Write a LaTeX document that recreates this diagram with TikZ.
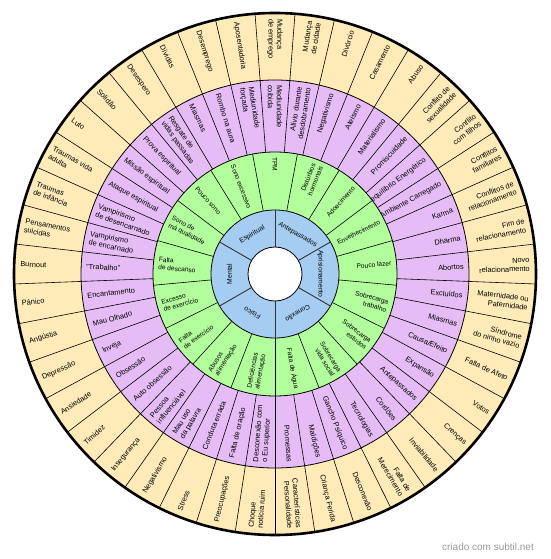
\documentclass[tikz,border=0pt]{standalone}
\usepackage{fontspec}
\setmainfont{Liberation Sans}
\definecolor{ringyellow}{HTML}{FFEBB8}
\definecolor{ringpurple}{HTML}{E5BCF6}
\definecolor{ringgreen}{HTML}{B2FE9C}
\definecolor{ringblue}{HTML}{A5CDF2}
\newcommand{\ringlabels}[5]{%
  \foreach \txt [count=\idx from 0] in {#5} {%
    \pgfmathsetmacro\ang{90-\idx*360/#2}%
    \pgfmathtruncatemacro\outw{cos(\ang)>0.01}%
    \ifnum\outw=1
      \node[#4,anchor=east,align=right,rotate=\ang] (#1\idx) at (\ang:#3) {\txt};
    \else
      \node[#4,anchor=west,align=left,rotate=\ang+180] (#1\idx) at (\ang:#3) {\txt};
    \fi
  }}

\begin{document}
\begin{tikzpicture}[
  disc/.style={draw,line width=0.8pt},
  divider/.style={line width=0.6pt},
  outertext/.style={font=\fontsize{7.4}{8.8}\selectfont,inner sep=0pt},
  greentext/.style={font=\fontsize{6.6}{7.9}\selectfont,inner sep=0pt},
  bluetext/.style={font=\fontsize{6.8}{8}\selectfont,inner sep=0pt}
]
\useasboundingbox (-275pt,-285pt) rectangle (275pt,274pt);

\fill[ringyellow] (0,0) circle[radius=261pt];
\ringlabels{y}{41}{255pt}{outertext}{%
  Mudança\\de emprego, Mudança\\de cidade, Divórcio, Casamento, Abuso,
  Conflito de\\sexualidade, Conflito\\com filhos, Conflitos\\familiares,
  Conflitos de\\relacionamento, Fim de\\relacionamento, Novo\\relacionamento,
  Maternidade ou\\Paternidade, Síndrome\\do ninho vazio, Falta de Afeto,
  Votos, Crenças, Inviabilidade, Falta de\\Merecimento, Desconexão,
  Criança Ferida, Características\\Personalidade, Choque\\notícia ruim,
  Preocupações, Stress, Negativismo, Insegurança, Timidez, Ansiedade,
  Depressão, Angústia, Pânico, Burnout, Pensamentos\\suicidas,
  Traumas\\de infância, Traumas vida\\adulta, Luto, Solidão, Desespero,
  Dívidas, Desemprego, Aposentadoria}

\draw[disc,fill=ringpurple] (0,0) circle[radius=194pt];
\ringlabels{p}{41}{189pt}{outertext}{%
  Mediunidade\\coibida, Alívio durante\\desdobramento, Negativismo, Ateísmo,
  Materialismo, Promiscuidade, Desequilíbrio Energético, Ambiente Carregado,
  Karma, Dharma, Abortos, Excluídos, Miasmas, Causa/Efeito, Expansão,
  Antepassados, Cordões, Tecnologias, Gancho Psíquico, Maldições, Promessas,
  Desconexão com\\o Eu superior, Falta de oração, Conduta errada,
  Mau uso\\da palavra, Pessoa\\influenciável, Auto obsessão, Obsessão, Inveja,
  Mau Olhado, Encantamento, "Trabalho", Vampirismo\\de encarnado,
  Vampirismo\\de desencarnado, Ataque espiritual, Missão espiritual,
  Prova espiritual, Resgate de\\vidas passadas, Miasmas, Rombo na aura,
  Mediunidade\\forçada}

\foreach \k in {0,...,40}
  \draw[divider] (270+\k*360/41:122pt) -- (270+\k*360/41:261pt);

\draw[disc,fill=ringgreen] (0,0) circle[radius=122pt];
\ringlabels{g}{17}{117pt}{greentext}{%
  TPM, Distúrbios\\hormonais, Adoecimento, Envelhecimento, Pouco lazer,
  Sobrecarga\\trabalho, Sobrecarga\\estudos, Sobrecarga\\vida social,
  Falta de Água, Deficiências\\alimentação, Abusos\\alimentação,
  Falta\\de exercício, Excesso\\de exercício, Falta\\de descanso,
  Sono de\\má qualidade, Pouco sono, Sono excessivo}

\foreach \k in {0,...,16}
  \draw[divider] (270+\k*360/17:64pt) -- (270+\k*360/17:122pt);

\draw[disc,fill=ringblue] (0,0) circle[radius=64pt];
\foreach \txt [count=\idx from 0] in {Antepassados,Aprisionamento,Conexão,Físico,Mental,Espiritual}
  {\node[bluetext,rotate=-30-\idx*60] (b\idx) at (60-\idx*60:45.5pt) {\txt};}
\foreach \k in {0,...,5}
  \draw[line width=0.9pt,black!80] (90+\k*60:27pt) -- (90+\k*60:64pt);

\draw[disc,fill=white] (0,0) circle[radius=27pt];
\draw[line width=2.6pt] (0,0) circle[radius=261pt];

\node[font=\fontsize{10}{12}\selectfont,text=black!40] (mark) at (213pt,-273pt) {criado com subtil.net};
\end{tikzpicture}
\end{document}
